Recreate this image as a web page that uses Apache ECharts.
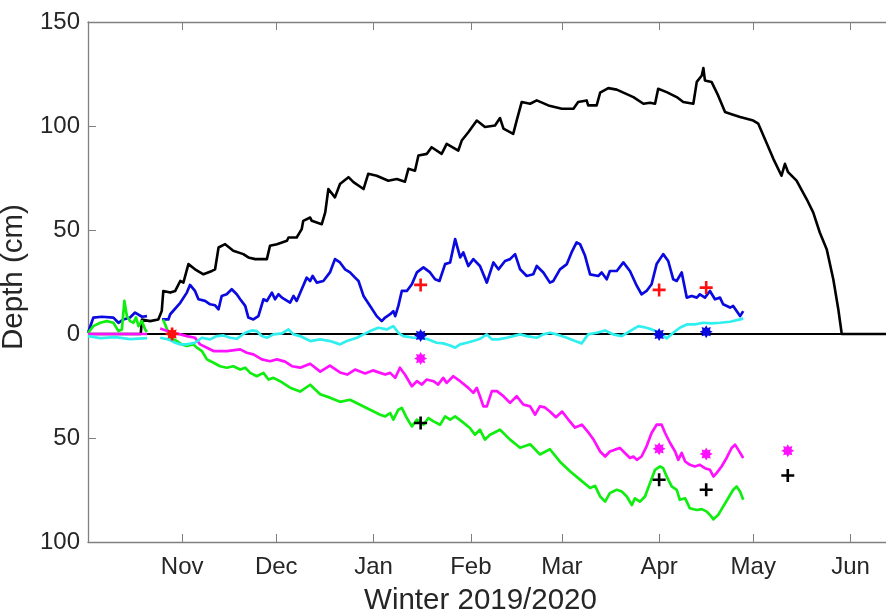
<!DOCTYPE html>
<html>
<head>
<meta charset="utf-8">
<title>Winter 2019/2020</title>
<script src="https://cdn.jsdelivr.net/npm/echarts@6/dist/echarts.min.js"></script>
<style>
  html, body { margin: 0; padding: 0; background: #fff; }
  #chart { width: 886px; height: 613px; }
</style>
</head>
<body>
<div id="chart"></div>
<script>
// x values are season day numbers: day 0 = 1 Oct 2019.
const monthStartDays = [31, 61, 92, 123, 152, 183, 213, 244];
const monthLabels = ['Nov', 'Dec', 'Jan', 'Feb', 'Mar', 'Apr', 'May', 'Jun'];
const depthTicks = [-100, -50, 0, 50, 100, 150];
const seasonFirstDay = 1;
const seasonLastDay = 255.3;

// Snow depth (black)
const snowDay = [1, 17.8, 18.2, 20.8, 23.4, 24.5, 25.0, 27.2, 28.8, 30.4, 31.4, 33.0, 35.1, 37.8, 40.5, 41.5, 42.6, 44.7, 47.3, 50.5, 52.1, 54.3, 58.0, 59.0, 61.2, 64.4, 64.9, 67.5, 69.1, 69.6, 71.8, 72.3, 75.5, 76.6, 77.6, 79.7, 81.3, 84.0, 85.6, 88.8, 90.3, 93.0, 96.7, 99.4, 102.0, 103.1, 105.2, 106.3, 109.0, 110.5, 113.7, 115.3, 119.0, 120.1, 122.2, 124.9, 127.5, 130.7, 132.3, 133.4, 136.5, 137.6, 139.2, 141.9, 144.0, 147.7, 152.0, 155.7, 157.2, 159.9, 160.4, 163.1, 164.2, 166.8, 169.5, 174.8, 178.0, 180.1, 181.7, 182.7, 185.4, 188.6, 190.7, 193.9, 195.0, 196.6, 197.1, 197.6, 199.7, 201.8, 204.0, 205.6, 208.8, 213.0, 214.6, 216.7, 219.4, 222.0, 223.1, 224.1, 226.8, 230.0, 232.1, 234.2, 236.4, 238.5, 240.1, 241.2, 255.3];
const snowDepth = [0, 0, 7, 6.2, 7, 11, 20.7, 19.9, 20.7, 25.5, 24.7, 33.6, 31.1, 28.7, 30.3, 31.1, 41.6, 43.2, 40, 38.4, 36.8, 36, 36, 42.4, 43.2, 44.8, 46.4, 46.4, 50.4, 54.4, 56, 54.4, 52.8, 58.5, 69.7, 65.7, 72.1, 75.4, 73, 69.7, 77, 76.1, 73.7, 74.5, 73.2, 79.4, 78.5, 85.8, 86.6, 89.8, 86.6, 91.4, 88.2, 93, 97, 102.6, 99.5, 100.2, 103.8, 98.7, 96.2, 102.6, 111.5, 110.7, 112.3, 109.9, 108.3, 108.3, 111.5, 112.3, 109.9, 109.9, 116, 118.2, 117.5, 113.9, 110.7, 111.2, 110.7, 117.9, 116.3, 113.9, 111.5, 110.7, 121.2, 124.3, 127.9, 121.9, 121.2, 114.7, 106.7, 105.9, 104.3, 102.6, 101.1, 93.8, 84.2, 76.1, 81.8, 77.8, 73.7, 64.9, 58.5, 48.8, 40.8, 26.3, 11.9, 0, 0];

// Blue series
const blueDay = [1, 2.7, 5.4, 9.1, 10.7, 12.3, 14.4, 16.0, 18.2, 19.8, 22, 24.6, 26.6, 27.2, 30.4, 32.5, 33.5, 35.1, 36.2, 38.3, 39.9, 41.5, 42.6, 43.6, 45.2, 46.8, 48.4, 49.5, 51.1, 52.1, 53.7, 55.3, 56.9, 58.0, 59.6, 60.6, 61.7, 62.8, 65.4, 66.5, 67.5, 69.1, 70.7, 71.8, 72.6, 73.9, 76.0, 78.1, 79.7, 81.3, 82.9, 84.5, 86.1, 87.2, 88.8, 90.9, 93.0, 94.6, 95.7, 97.3, 98.3, 98.9, 99.9, 101.0, 102.6, 104.2, 105.8, 107.9, 110.0, 111.6, 113.0, 114.8, 116.4, 118.0, 119.6, 120.6, 122.2, 123.8, 125.9, 128.1, 130.2, 131.8, 133.9, 135.5, 137.1, 138.7, 140.8, 142.9, 144.0, 146.1, 148.2, 149.3, 151.4, 153.6, 155.1, 156.7, 157.8, 159.4, 161.0, 163.6, 164.7, 166.3, 167.3, 169.5, 171.6, 173.7, 175.9, 177.4, 179.0, 180.6, 182.2, 184.3, 185.9, 187.5, 188.6, 190.2, 191.8, 193.4, 195.0, 196.0, 197.6, 199.2, 200.8, 202.4, 203.4, 205.6, 206.6, 208.8, 209.8];
const blueValue = [0.5, 7.9, 8.3, 7.9, 5.4, 7, 7.9, 10.3, 8.3, 8.6, null, 7, 7, 9.5, 15, 19.9, 23.6, 20.7, 16.7, 15.9, 14.3, 13.8, 11.9, 18.3, 19.1, 21.5, 19.1, 16.7, 13.5, 7.9, 7, 8.6, 16.7, 15.9, 19.9, 16.7, 19.1, 17.5, 15.1, 18.3, 15.9, 21.5, 27.1, 25.5, 27.9, 24.7, 25.5, 29.6, 36, 34.4, 31.1, 29.6, 27.1, 25.5, 18.3, 13.5, 8.6, 6.2, 7.9, 9.5, 11, 8.6, 13.5, 20.7, 20.7, 23.9, 29.6, 32, 29.6, 26.3, 25.5, 33.6, 34.4, 45.6, 36.8, 39.2, 32.7, 36, 32.7, 24.7, 34.4, 31.1, 35.1, 36, 38.4, 31.1, 27.9, 28.7, 32.7, 29.6, 24.7, 25.5, 31.1, 33.6, 39.2, 44, 43.2, 37.6, 28.7, 27.9, 29.6, 26.3, 30.3, 30.3, 34.4, 30.3, 23.1, 19.1, 20.7, 23.9, 33.6, 38.4, 35.1, 26.3, 25.5, 29.6, 17.5, 18.3, 17.5, 19.1, 17.5, 20.7, 16.7, 17.5, 14.3, 12.7, 13.5, 8.6, 11];

// Cyan series
const cyanDay = [1, 4.9, 9.7, 14.4, 19.8, 22, 24.0, 26.6, 28.8, 30.4, 32.5, 35.1, 37.3, 39.9, 42.1, 44.2, 46.3, 48.4, 51.1, 53.2, 54.8, 56.4, 58.0, 60.1, 62.8, 64.9, 66.5, 68.6, 71.8, 75.0, 78.1, 81.3, 83.5, 86.7, 88.8, 90.9, 93.5, 96.2, 98.3, 99.9, 101.5, 104.7, 106.8, 109.5, 112.1, 114.2, 116.4, 118.0, 119.6, 121.7, 124.3, 125.9, 128.1, 129.7, 131.8, 134.4, 136.5, 138.7, 140.8, 144.0, 146.1, 148.2, 150.4, 153.6, 156.2, 158.3, 160.4, 163.1, 165.8, 168.4, 171.1, 173.7, 176.4, 179.0, 181.1, 183.8, 185.4, 187.5, 189.6, 191.8, 194.4, 197.1, 199.7, 202.4, 205.6, 208.8, 209.8];
const cyanValue = [-1, -2, -1.5, -2.5, -2, null, -1.8, -2.6, -4.2, -5, -5, -4.2, -1.8, -2.6, -1, -0.7, -1.8, -2.3, 0.6, 1.7, 1.4, -1, -1.8, -0.2, 0.3, 2.2, -0.2, -1, -3.4, -2.6, -3.4, -5, -3.4, -1.8, -0.2, 1.4, 3, 2.2, 3.8, 0.6, -1, -1.8, -1.8, -2.6, -4.2, -4.5, -5.5, -6.6, -5, -4.2, -3.1, -2.3, -0.2, -2.6, -2.6, -1.8, -1, -0.2, -1, -1.8, -0.2, 0.6, -0.2, -1.8, -3.4, -4.5, -0.2, 0.6, 1.7, -0.2, -1, 1.4, 3.8, 3, 1.9, -0.2, -2.1, 0.6, 3, 4.6, 4.6, 5.4, 5.1, 5.4, 5.9, 7, 7.5];

// Magenta series
const magentaDay = [1, 19.8, 22, 24.0, 27.2, 30.4, 32.5, 35.1, 36.7, 38.9, 41.0, 45.2, 49.5, 51.6, 53.7, 56.4, 59.0, 61.2, 63.8, 66.0, 68.6, 71.8, 75.0, 78.1, 81.3, 83.6, 86.1, 89.3, 91.8, 94.1, 95.7, 97.3, 98.9, 100.4, 102.0, 104.2, 105.8, 107.4, 108.9, 111.1, 112.6, 114.2, 115.3, 117.4, 119.6, 122.2, 123.8, 124.9, 125.9, 127.0, 128.1, 129.7, 131.3, 133.4, 135.5, 137.6, 139.7, 141.9, 143.5, 145.0, 146.6, 148.2, 150.1, 152.1, 154.0, 156.2, 158.4, 160.3, 162.2, 164.2, 165.8, 167.3, 168.9, 170.5, 172.1, 173.7, 174.8, 175.9, 177.4, 179.0, 180.6, 182.2, 183.8, 184.9, 186.5, 188.1, 189.1, 190.2, 191.3, 192.8, 194.4, 196.0, 197.6, 199.2, 200.3, 201.3, 202.9, 204.5, 206.1, 207.2, 208.2, 209.8];
const magentaValue = [0, 0, null, 2.6, 1, -0.2, -1, -1.8, -5, -6.6, -8.2, -8.2, -7.4, -9, -9.8, -12.2, -13.1, -12.2, -13.3, -15.5, -16.2, -14.3, -18.1, -15.2, -18.5, -19.5, -17.1, -19, -17.5, -18.7, -19.5, -18.7, -21.1, -16.2, -19.5, -25.1, -22.7, -24.3, -21.9, -22.7, -24.3, -21.1, -23.5, -20.3, -22.7, -25.9, -28.3, -25.9, -29.9, -34.8, -34.8, -27.5, -27.5, -29.9, -33.1, -29.9, -33.9, -34.8, -38.8, -34.8, -35.3, -37.3, -40, -37.3, -41, -45, -43.6, -47, -51, -56.5, -58.9, -56.5, -55.6, -54.8, -57.2, -59.6, -58.9, -60.5, -58.9, -54, -47.6, -43.6, -43.6, -47.6, -52.4, -56.5, -60.5, -57.2, -61.3, -62.9, -63.7, -62.9, -64.5, -65.3, -68.5, -66.9, -63.7, -59.6, -54.8, -53.2, -55.6, -59.6];

// Green series
const greenDay = [1, 2.7, 4.9, 7.0, 9.1, 10.7, 11.8, 12.6, 13.4, 14.4, 15.5, 16.3, 17.1, 18.2, 19.2, 19.8, 22, 24.9, 25.6, 27.2, 29.3, 30.9, 32.5, 34.6, 35.7, 37.3, 38.9, 41.0, 43.1, 45.2, 47.3, 49.5, 51.1, 52.7, 54.8, 56.9, 58.5, 60.1, 62.2, 65.4, 68.6, 71.8, 75.0, 78.1, 81.3, 84.5, 87.7, 90.9, 94.1, 95.7, 97.3, 98.3, 99.9, 101.0, 102.6, 104.2, 105.8, 107.9, 109.5, 111.1, 113.2, 114.8, 116.4, 118.0, 120.1, 122.7, 124.3, 125.9, 127.5, 129.1, 132.3, 135.5, 138.7, 141.9, 145.0, 148.2, 151.4, 154.6, 157.8, 161.0, 162.6, 164.2, 165.8, 167.3, 169.5, 171.1, 172.7, 174.3, 175.3, 176.9, 178.5, 180.1, 181.7, 183.3, 184.3, 185.4, 187.0, 188.6, 189.6, 191.3, 192.8, 195.0, 196.6, 198.2, 199.2, 200.3, 201.8, 203.4, 205.0, 206.6, 207.7, 208.8, 209.8];
const greenValue = [0.5, 3.8, 5.4, 6.2, 5.4, 1.4, 2.2, 15.9, 8.6, 6.2, 5.4, 8, 3.8, 6.2, 2.2, 1, null, 7, 4.6, -1.8, -3.4, -5, -5.8, -5, -6.6, -8.2, -12.2, -13.8, -15.5, -16.2, -15.5, -17.1, -16.2, -18.7, -20.3, -18.7, -21.9, -21.1, -22.7, -25.8, -27.7, -24.4, -29, -30.6, -32.6, -31.6, -34, -36.4, -38.8, -39.6, -38, -41.2, -36.4, -35.5, -40.4, -44.4, -41.2, -43.6, -40.4, -42, -43.6, -39.6, -41.2, -39.6, -42, -45.2, -48.4, -46, -50.8, -48.4, -46, -50.8, -54.7, -53, -57.9, -55.4, -61.4, -66, -70, -74, -73, -78.1, -80.6, -76.5, -74.9, -75.7, -78.1, -82.2, -79, -80.6, -78.1, -71.7, -65.3, -63.7, -64.5, -68.5, -73.3, -74.9, -79.7, -79, -83.8, -84.6, -84.2, -85.4, -87, -89.1, -87, -83, -79, -74.9, -73.3, -75.7, -79.7];

// Point measurements
const surveyDays = [107, 183, 198];
const firstSurveyDay = 27.8;
const redPlusValue = [23.6, 21.2, 22.3];
const bluePointValue = [-0.7, -0.2, 1.1];
const magentaPointDay = [107, 183, 198, 224];
const magentaPointValue = [-11.8, -55.2, -57.7, -56.1];
const blackPlusDay = [107, 183, 198, 224];
const blackPlusValue = [-42.8, -70.1, -74.9, -68];

function pairs(days, values) {
  return days.map((d, i) => [d, values[i] === null ? '-' : values[i]]);
}

// Marker shapes: a thick plus and an eight-spoke asterisk
const plusSymbol = 'path://M4,0H6V4H10V6H6V10H4V6H0V4H4Z';
function starPath(points, outer, inner) {
  let p = '';
  for (let i = 0; i < points * 2; i++) {
    const r = i % 2 === 0 ? outer : inner;
    const a = Math.PI * i / points - Math.PI / 2;
    p += (i === 0 ? 'M' : 'L') + (outer + r * Math.cos(a)).toFixed(2) + ',' + (outer + r * Math.sin(a)).toFixed(2);
  }
  return 'path://' + p + 'Z';
}
const asteriskSymbol = starPath(8, 10, 6.2);

const axisGray = '#808080';
const textGray = '#262626';
const fontFamily = 'Arial, "Liberation Sans", Helvetica, sans-serif';

function lineSeries(name, data, color, width, z) {
  return {
    name, type: 'line', data, showSymbol: false, symbol: 'none',
    connectNulls: false, animation: false,
    lineStyle: { color, width, join: 'round' },
    z: z || 2
  };
}
function markerSeries(name, data, color, symbol, size) {
  return {
    name, type: 'scatter', data, symbol, symbolSize: size,
    itemStyle: { color, opacity: 1 }, animation: false, z: 5
  };
}

const chart = echarts.init(document.getElementById('chart'), null, { renderer: 'canvas' });
chart.setOption({
  backgroundColor: '#ffffff',
  animation: false,
  grid: { left: 88, right: 0, top: 22, bottom: 71, containLabel: false, outerBoundsMode: 'none' },
  xAxis: [{
    type: 'value',
    min: seasonFirstDay, max: seasonLastDay,
    position: 'bottom',
    axisLine: { show: true, onZero: false, lineStyle: { color: axisGray, width: 1.3 } },
    axisTick: { show: true, inside: true, length: 8, customValues: monthStartDays, lineStyle: { color: axisGray, width: 1 } },
    axisLabel: {
      show: true, customValues: monthStartDays, margin: 13,
      color: textGray, fontSize: 24, fontFamily,
      formatter: v => monthLabels[monthStartDays.indexOf(Math.round(v))] || ''
    },
    splitLine: { show: false },
    name: 'Winter 2019/2020', nameLocation: 'middle', nameGap: 44,
    nameTextStyle: { color: textGray, fontSize: 29.5, fontFamily, padding: [0, 13, 0, 0] }
  }, {
    type: 'value',
    min: seasonFirstDay, max: seasonLastDay,
    position: 'top',
    axisLine: { show: true, onZero: false, lineStyle: { color: axisGray, width: 1.3 } },
    axisTick: { show: true, inside: true, length: 8, customValues: monthStartDays, lineStyle: { color: axisGray, width: 1 } },
    axisLabel: { show: false },
    splitLine: { show: false }
  }],
  yAxis: {
    type: 'value',
    min: -100, max: 150, interval: 50,
    axisLine: { show: true, onZero: false, lineStyle: { color: axisGray, width: 1.3 } },
    axisTick: { show: true, inside: true, length: 8, customValues: depthTicks, lineStyle: { color: axisGray, width: 1 } },
    axisLabel: {
      color: textGray, fontSize: 24, fontFamily, margin: 8,
      formatter: v => String(Math.abs(v))
    },
    splitLine: { show: false },
    name: 'Depth (cm)', nameLocation: 'middle', nameGap: 49,
    nameTextStyle: { color: textGray, fontSize: 29.5, fontFamily, padding: [0, 0, 0, 10] }
  },
  series: [
    lineSeries('zero', [[seasonFirstDay, 0], [seasonLastDay, 0]], '#000000', 2.2, 1),
    lineSeries('snow', pairs(snowDay, snowDepth), '#000000', 2.6),
    lineSeries('blue', pairs(blueDay, blueValue), '#0a0ae0', 2.7),
    lineSeries('green', pairs(greenDay, greenValue), '#10ee10', 2.7),
    lineSeries('magenta', pairs(magentaDay, magentaValue), '#ff10ff', 2.7),
    lineSeries('cyan', pairs(cyanDay, cyanValue), '#30efef', 2.7),
    markerSeries('blue points', pairs(surveyDays, bluePointValue), '#0a0ae0', asteriskSymbol, 13),
    markerSeries('magenta points', pairs(magentaPointDay, magentaPointValue), '#ff10ff', asteriskSymbol, 13),
    markerSeries('black points', pairs(blackPlusDay, blackPlusValue), '#000000', plusSymbol, 13),
    markerSeries('red points', pairs(surveyDays, redPlusValue), '#ff1010', plusSymbol, 13),
    markerSeries('first survey', [[firstSurveyDay, 0]], '#ff1010', asteriskSymbol, 13),
    markerSeries('first survey plus', [[firstSurveyDay, 0]], '#ff1010', plusSymbol, 13)
  ]
});
</script>
</body>
</html>
